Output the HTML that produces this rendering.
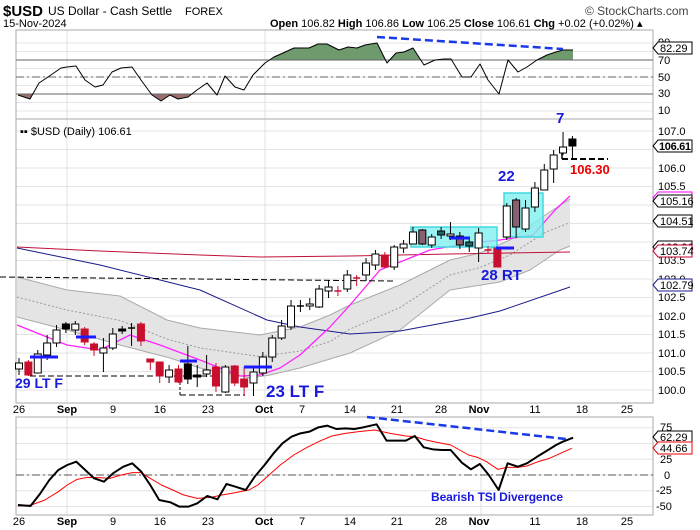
<!DOCTYPE html>
<html><head><meta charset="utf-8"><style>
html,body{margin:0;padding:0;background:#fff;width:700px;height:530px;overflow:hidden}
svg{display:block;font-family:"Liberation Sans",sans-serif}
</style></head><body>
<svg id="s" width="700" height="530" viewBox="0 0 700 530" xmlns="http://www.w3.org/2000/svg">
<rect width="700" height="530" fill="#fff"/>
<g id="grid"></g>
<text x="3" y="16" font-size="15" font-weight="bold">$USD</text>
<text x="48" y="15" font-size="12">US Dollar - Cash Settle</text>
<text x="185" y="15" font-size="11">FOREX</text>
<text x="585" y="15" font-size="12" fill="#444">© StockCharts.com</text>
<text x="3" y="27" font-size="11">15-Nov-2024</text>
<text x="270" y="27" font-size="11"><tspan font-weight="bold">Open</tspan> 106.82 <tspan font-weight="bold">High</tspan> 106.86 <tspan font-weight="bold">Low</tspan> 106.25 <tspan font-weight="bold">Close</tspan> 106.61 <tspan font-weight="bold">Chg</tspan> +0.02 (+0.02%) ▴</text>
<g fill="none" stroke="#aaa">
<rect x="16" y="30" width="637" height="89"/>
<rect x="16" y="119" width="637" height="284"/>
<rect x="16" y="417" width="637" height="98"/>
</g>
<g id="plot"></g>
<g font-size="11" fill="#000">
<text x="658" y="46">90</text><text x="658" y="64">70</text><text x="658" y="81">50</text><text x="658" y="97">30</text><text x="658" y="114">10</text>
</g>
<polygon points="653,48 658,42 692,42 692,54 658,54" fill="#fff" stroke="#000"/>
<text x="660" y="52" font-size="11">82.29</text>
<text x="20" y="135" font-size="11">▪▪ $USD (Daily) 106.61</text>
<g font-size="11">
<text x="658" y="135">107.0</text><text x="658" y="172">106.0</text><text x="658" y="190">105.5</text>
<text x="658" y="264">103.5</text><text x="658" y="283">103.0</text><text x="658" y="301">102.5</text>
<text x="658" y="320">102.0</text><text x="658" y="338">101.5</text><text x="658" y="357">101.0</text>
<text x="658" y="375">100.5</text><text x="658" y="394">100.0</text>
</g>
<g font-size="11">
<polygon points="653,247 658,241 692,241 692,253 658,253" fill="#fff" stroke="#000"/><text x="660" y="251">103.96</text>
<polygon points="653,198 658,192 692,192 692,204 658,204" fill="#fff" stroke="#f0f"/>
<polygon points="653,146 658,140 692,140 692,152 658,152" fill="#fff" stroke="#000"/><text x="659" y="150" font-weight="bold" textLength="32">106.61</text>
<polygon points="653,201 658,195 692,195 692,207 658,207" fill="#fff" stroke="#000"/><text x="660" y="205">105.16</text>
<polygon points="653,221 658,215 692,215 692,227 658,227" fill="#fff" stroke="#000"/><text x="660" y="225">104.51</text>
<polygon points="653,251 658,245 692,245 692,257 658,257" fill="#fff" stroke="#c8002e"/><text x="660" y="255">103.74</text>
<polygon points="653,285 658,279 692,279 692,291 658,291" fill="#fff" stroke="#1a1a8c"/><text x="660" y="289">102.79</text>
</g>
<g font-size="11" text-anchor="middle">
<text x="19" y="413">26</text><text x="67" y="413" font-weight="bold">Sep</text><text x="113" y="413">9</text><text x="160" y="413">16</text><text x="208" y="413">23</text><text x="264" y="413" font-weight="bold">Oct</text><text x="302" y="413">7</text><text x="350" y="413">14</text><text x="397" y="413">21</text><text x="441" y="413">28</text><text x="479" y="413" font-weight="bold">Nov</text><text x="535" y="413">11</text><text x="582" y="413">18</text><text x="627" y="413">25</text>
<text x="19" y="525">26</text><text x="67" y="525" font-weight="bold">Sep</text><text x="113" y="525">9</text><text x="160" y="525">16</text><text x="208" y="525">23</text><text x="264" y="525" font-weight="bold">Oct</text><text x="302" y="525">7</text><text x="350" y="525">14</text><text x="397" y="525">21</text><text x="441" y="525">28</text><text x="479" y="525" font-weight="bold">Nov</text><text x="535" y="525">11</text><text x="582" y="525">18</text><text x="627" y="525">25</text>
</g>
<g font-size="11">
<text x="660" y="431">75</text><text x="660" y="463">25</text><text x="664" y="479">0</text><text x="656" y="494">-25</text><text x="656" y="510">-50</text>
</g>
<polygon points="653,437 658,431 692,431 692,443 658,443" fill="#fff" stroke="#000"/><text x="660" y="441" font-size="11">62.29</text>
<polygon points="653,448 658,442 692,442 692,454 658,454" fill="#fff" stroke="#e00"/><text x="660" y="452" font-size="11">44.66</text>
<g font-weight="bold" fill="#1a1adc">
<text x="15" y="388" font-size="14">29 LT F</text>
<text x="266" y="397" font-size="17">23 LT F</text>
<text x="481" y="280" font-size="15">28 RT</text>
<text x="498" y="181" font-size="15">22</text>
<text x="556" y="123" font-size="15">7</text>
<text x="431" y="501" font-size="12" textLength="132">Bearish TSI Divergence</text>
</g>
<text x="570" y="174" font-size="13" font-weight="bold" fill="#e00">106.30</text>
</svg>
<script>
var NS="http://www.w3.org/2000/svg";
var grid=document.getElementById('grid'),plot=document.getElementById('plot');
function el(p,t,a){var e=document.createElementNS(NS,t);for(var k in a)e.setAttribute(k,a[k]);p.appendChild(e);return e;}
function L(p,x1,y1,x2,y2,c,w,d){var a={x1:x1,y1:y1,x2:x2,y2:y2,stroke:c,'stroke-width':w||1};if(d)a['stroke-dasharray']=d;return el(p,'line',a);}
function PL(p,pts,c,w,d,f){var a={points:pts.map(function(q){return q.join(',')}).join(' '),fill:f||'none',stroke:c,'stroke-width':w||1,'stroke-linejoin':'round'};if(d)a['stroke-dasharray']=d;return el(p,'polyline',a);}
for(var y=43;y<=111;y+=8.5)L(grid,16,y,653,y,'#e6e6e6');
for(var p=100;p<=107.01;p+=0.5){var yy=131+(107-p)*37;L(grid,16,yy,653,yy,'#e3e3e3');}
for(var v=-50;v<=75;v+=25){var yy=475-v*0.63;L(grid,16,yy,653,yy,'#e3e3e3');}
[67,265,481].forEach(function(x){L(grid,x,30,x,119,'#e0e0e0');L(grid,x,119,x,403,'#e0e0e0');L(grid,x,417,x,515,'#e0e0e0');});
var rx=[18,30,39,48,61,67,76,85,95,103,112,121,132,141,152,161,170,178,188,197,207,217,225,235,244,253,265,274,283,294,309,318,327,339,348,357,365,377,387,396,404,413,424,435,444,451,462,471,480,488,499,508,518,527,537,547,556,563,573];
var ry=[95,99,83,77,68,67,66,80,87,85,72,68,67,80,95,101,95,99,97,90,83,95,76,87,90,75,63,57,53,48,48,44,44,50,47,48,45,43,63,53,52,48,65,60,59,59,77,77,64,80,94,60,72,67,60,55,52,50,50];
var rp=rx.map(function(x,i){return [x,ry[i]]});
var cp=el(plot,'clipPath',{id:'ca'});el(cp,'rect',{x:16,y:30,width:637,height:30});
var cb=el(plot,'clipPath',{id:'cb'});el(cb,'rect',{x:16,y:94,width:637,height:25});
PL(plot,rp.concat([[573,60],[18,60]]),'none',0,null,'#6e9a6e').setAttribute('clip-path','url(#ca)');
PL(plot,rp.concat([[573,94],[18,94]]),'none',0,null,'#9a6e6e').setAttribute('clip-path','url(#cb)');
L(plot,16,60,653,60,'#666');L(plot,16,94,653,94,'#666');L(plot,16,77,653,77,'#666',1,'8,3,2,3');
PL(plot,rp,'#000',1);
L(plot,377,37,563,49,'#1a3ae8',2.5,'8,4');
var up=[[17,277],[67,290],[120,296],[167,320],[200,328],[260,335],[300,327],[330,315],[350,305],[400,285],[450,260],[480,253],[510,240],[545,215],[570,199]];
var lo=[[17,317],[67,330],[120,345],[170,358],[200,368],[250,378],[270,375],[300,368],[350,353],[400,330],[450,290],[500,282],[530,270],[560,250],[570,246]];
PL(plot,up.concat(lo.slice().reverse()),'none',0,null,'#e4e4e4');
PL(plot,up,'#aaa',1);PL(plot,lo,'#aaa',1);
var mid=up.map(function(q,i){return [q[0],(q[1]+lo[i][1])/2]});
PL(plot,mid,'#999',1,'2,2');
PL(plot,[[17,247],[100,251],[200,255],[260,257],[350,256],[450,254],[570,252]],'#c0103a',1);
PL(plot,[[17,248],[100,265],[200,290],[267,320],[300,327],[350,334],[400,331],[470,318],[500,311],[570,287]],'#1a1a8c',1);
PL(plot,[[17,325],[67,345],[100,350],[130,335],[160,345],[200,360],[240,376],[260,375],[280,368],[300,355],[330,327],[350,305],[380,270],[430,250],[470,243],[500,240],[533,235],[555,210],[570,196]],'#ff22ff',1.3);
el(plot,'rect',{x:411,y:227,width:86,height:20,fill:'#7ff0f0','fill-opacity':0.8,stroke:'#40d8e0','stroke-width':1.5});
el(plot,'rect',{x:504,y:193,width:39,height:44,fill:'#7ff0f0','fill-opacity':0.8,stroke:'#40d8e0','stroke-width':1.5});
L(plot,0,277,393,281,'#000',1,'6,3');
L(plot,30,376,215,376,'#000',1,'6,3');
L(plot,180,395,245,395,'#000',1,'6,3');L(plot,180,382,180,395,'#000',1,'3,2');
L(plot,562,159,608,159,'#000',2,'6,3');L(plot,562,150,562,159,'#000',1.5);
var C=[[363,369,'h',358,375],[362,375,'r',360,376],[354,373,'h',350,373],[343,355,'h',335,360],[330,343,'h',325,347],[324,329,'b',322,333],[324,330,'h',321,335],[329,342,'r',327,345],[344,350,'r',342,356],[348,353,'h',338,372],[334,348,'h',328,350],[329,331,'b',326,334],[328,329,'b',323,346],[324,341,'r',322,346],[359,362,'r',359,370],[362,376,'r',362,383],[370,377,'h',365,383],[369,382,'r',365,383],[364,379,'b',346,384],[375,377,'b',365,387],[370,374,'h',355,377],[367,386,'r',363,392],[367,392,'h',365,393],[366,383,'r',365,386],[379,387,'r',367,396],[372,383,'h',367,396],[357,373,'h',352,376],[338,357,'h',335,362],[326,338,'h',320,340],[306,327,'h',300,330],[306,306,'h',300,312],[304,306,'h',298,310],[289,307,'h',285,308],[287,291,'h',280,298],[291,291,'r',286,296],[275,289,'h',270,292],[278,278,'r',275,286],[263,275,'h',258,281],[254,265,'h',250,270],[255,267,'r',252,268],[247,267,'h',245,270],[244,248,'h',240,253],[232,244,'h',227,244],[230,244,'m',229,245],[237,245,'h',234,248],[231,235,'t',227,239],[234,236,'h',222,240],[236,245,'m',232,249],[242,246,'t',238,252],[233,248,'h',228,262],[250,250,'r',246,254],[248,267,'r',248,267],[206,237,'h',203,240],[200,227,'m',198,238],[208,229,'h',200,232],[188,207,'h',182,212],[170,190,'h',164,190],[155,169,'h',150,183],[147,153,'h',132,155],[139,146,'b',136,159]];
var col={h:'#fff',b:'#000',r:'#c8102e',m:'#8a6070',t:'#1f6a6a'};
C.forEach(function(c,i){var x=19+i*9.38;var s=c[2]=='r'?'#c8102e':'#000';
L(plot,x,c[3],x,c[4],s,1);
var h=Math.max(c[1]-c[0],1);
if(h<=1){L(plot,x-3.5,c[0],x+3.5,c[0],s,1.5);}else
el(plot,'rect',{x:x-3.5,y:c[0],width:7,height:h,fill:col[c[2]],stroke:s,'stroke-width':1});});
[[30,58,357],[76,96,337],[180,197,361],[244,272,367],[449,470,238],[496,514,248]].forEach(function(b){L(plot,b[0],b[2],b[1],b[2],'#1a1aff',3);});
function tp(a){var r=[];for(var i=0;i<a.length;i+=2)r.push([a[i]/2.23,a[i+1]/3+410]);return r;}
L(plot,16,475,653,475,'#555',1,'8,3,2,3');
PL(plot,tp([40,288,70,285,100,270,130,245,150,225,172,208,195,202,220,203,245,205,270,195,295,188,315,188,335,205,360,225,385,240,410,255,440,265,470,262,495,255,525,248,555,240,575,225,600,195,625,165,655,135,685,112,715,92,740,78,770,70,800,65,835,60,870,70,905,78,925,80,950,90,975,97,1005,105,1025,120,1045,135,1065,142,1085,155,1110,178,1130,172,1155,172,1175,168,1200,155,1225,145,1250,130,1275,115]),'#f00',1);
PL(plot,tp([40,285,68,288,90,250,110,210,130,180,150,165,170,155,190,180,210,205,232,215,252,190,275,170,295,160,315,185,335,225,355,270,380,277,400,290,420,290,440,280,462,258,485,268,505,222,525,230,548,240,568,200,590,165,610,130,630,100,650,80,670,70,690,65,710,52,730,47,750,57,770,55,790,57,810,52,840,43,862,92,885,92,905,92,925,78,945,112,965,118,985,120,1005,120,1030,158,1050,178,1070,162,1090,195,1112,240,1132,160,1155,170,1175,160,1198,140,1220,122,1240,105,1255,95,1278,83]),'#000',2);
L(plot,367,417,566,439,'#1a3ae8',2.5,'8,4');
</script>
</body></html>
